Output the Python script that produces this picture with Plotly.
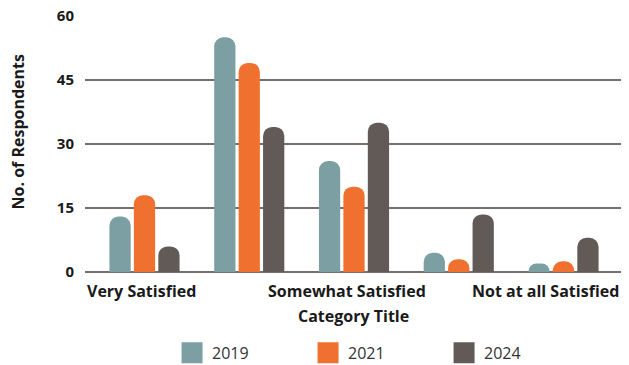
import plotly.graph_objects as go

categories = ["Very Satisfied", "Satisfied", "Somewhat Satisfied",
              "Not Very Satisfied", "Not at all Satisfied"]
shown_labels = ["Very Satisfied", "Somewhat Satisfied", "Not at all Satisfied"]
years = ["2019", "2021", "2024"]
values_2019 = [13, 55, 26, 4.5, 2]
values_2021 = [18, 49, 20, 3, 2.5]
values_2024 = [6, 34, 35, 13.5, 8]
y_ticks = [0, 15, 30, 45, 60]

colors = ["#7c9fa3", "#f0712f", "#625a57"]
series = [values_2019, values_2021, values_2024]

FONT = "Open Sans"
fig = go.Figure()
for name, vals, col in zip(years, series, colors):
    fig.add_trace(go.Bar(x=categories, y=vals, name=name, marker_color=col,
                         marker_line_width=0, showlegend=False))
# legend proxies (large square swatches)
for name, col in zip(years, colors):
    fig.add_trace(go.Scatter(x=[None], y=[None], mode="markers", name=name,
                             marker=dict(symbol="square", size=16, color=col,
                                         line=dict(color=col, width=5))))

annotations = []
label_shifts = [-3, -7, -18]
for lab, dx in zip(shown_labels, label_shifts):
    annotations.append(dict(x=lab, xref="x", y=0, yref="paper", yanchor="top",
                            xanchor="center", yshift=-6, xshift=dx, showarrow=False,
                            text="<b>%s</b>" % lab,
                            font=dict(family=FONT, size=16, color="#1a1a1a")))
annotations.append(dict(x=0.5, xref="paper", y=0, yref="paper", yanchor="top",
                        yshift=-31, showarrow=False, text="<b>Category Title</b>",
                        font=dict(family=FONT, size=16, color="#1a1a1a")))
annotations.append(dict(x=0, xref="paper", y=0.545, yref="paper", xanchor="center",
                        yanchor="middle", xshift=-67, textangle=-90, showarrow=False,
                        text="<b>No. of Respondents</b>",
                        font=dict(family=FONT, size=16, color="#1a1a1a")))

fig.update_layout(
    width=629, height=365,
    margin=dict(l=85, r=8, t=16, b=93, autoexpand=False),
    paper_bgcolor="white", plot_bgcolor="white",
    barmode="group", bargap=0.30, bargroupgap=0.13, barcornerradius=9,
    font=dict(family=FONT, size=16, color="#1a1a1a"),
    xaxis=dict(showticklabels=False, showgrid=False, zeroline=False,
               showline=False, ticks=""),
    yaxis=dict(range=[0, 60], tickvals=y_ticks, showgrid=True, gridcolor="#766e6b",
               gridwidth=2, zeroline=True, zerolinecolor="#766e6b", zerolinewidth=2,
               showline=False, ticks="", ticklabelstandoff=10,
               tickfont=dict(family=FONT, size=15, color="#1a1a1a", weight="bold")),
    legend=dict(orientation="h", x=0.543, xanchor="center", y=-0.316,
                yanchor="middle", entrywidth=91, entrywidthmode="pixels",
                font=dict(family=FONT, size=16, color="#333333")),
    annotations=annotations,
)
fig.write_html("out.html", config={"displayModeBar": False},
               post_script="document.body.style.margin='0';")
